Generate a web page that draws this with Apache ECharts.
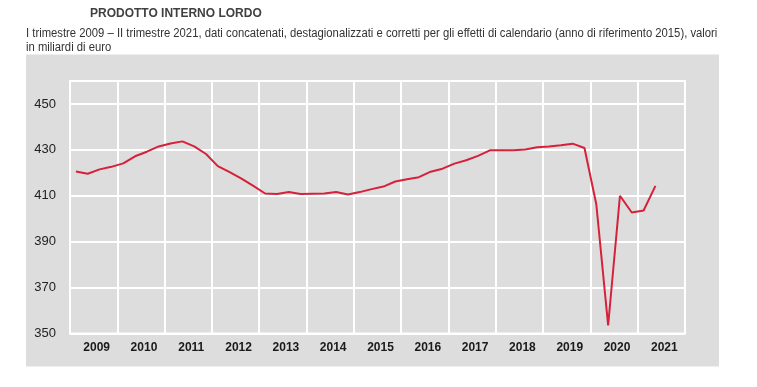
<!DOCTYPE html>
<html>
<head>
<meta charset="utf-8">
<script src="https://cdn.jsdelivr.net/npm/echarts@6/dist/echarts.min.js"></script>
<style>
html,body{margin:0;padding:0;background:#fff;}
#c{width:757px;height:387px;}
</style>
</head>
<body>
<div id="c"></div>
<script>
const titleText = 'PRODOTTO INTERNO LORDO';
const subtitleLines = [
  'I trimestre 2009 – II trimestre 2021, dati concatenati, destagionalizzati e corretti per gli effetti di calendario (anno di riferimento 2015), valori',
  'in miliardi di euro'
];
const years = ['2009','2010','2011','2012','2013','2014','2015','2016','2017','2018','2019','2020','2021'];
const quarters = [];
years.forEach(y => { ['I','II','III','IV'].forEach(q => quarters.push(q + ' ' + y)); });
const gdp = [
  420.6, 419.6, 421.5, 422.6,
  424.1, 427.2, 429.2, 431.5,
  432.8, 433.7, 431.5, 428.2,
  422.9, 420.3, 417.5, 414.3,
  411.0, 410.8, 411.6, 410.8,
  410.9, 411.0, 411.6, 410.6,
  411.6, 412.9, 414.0, 416.2,
  417.2, 418.1, 420.5, 421.8,
  424.0, 425.5, 427.4, 429.8,
  429.8, 429.8, 430.2, 431.1,
  431.5, 432.0, 432.7, 430.8,
  406.3, 353.5, 410.0, 402.7,
  403.6, 414.3
];
const yTicks = [350, 370, 390, 410, 430, 450];

const FONT = '"Liberation Sans Narrow", "Arial Narrow", Arial, sans-serif';
const chart = echarts.init(document.getElementById('c'), null, {renderer: 'canvas'});
chart.setOption({
  animation: false,
  graphic: [
    {type: 'rect', shape: {x: 26, y: 54.5, width: 693, height: 312}, style: {fill: '#dddddd'}, z: -10, silent: true},
    {type: 'text', left: 90, top: 8, style: {text: titleText, font: 'bold 12px ' + FONT, fill: '#404040'}},
    {type: 'text', x: 26, y: 27.5, scaleX: 0.94, style: {text: subtitleLines[0], font: '12px ' + FONT, fill: '#333333', textVerticalAlign: 'top'}},
    {type: 'text', x: 26, y: 41.5, scaleX: 0.94, style: {text: subtitleLines[1], font: '12px ' + FONT, fill: '#333333', textVerticalAlign: 'top'}}
  ],
  grid: {left: 70, top: 81, width: 615, height: 252.5, show: true, borderColor: '#ffffff', borderWidth: 2, backgroundColor: 'transparent'},
  xAxis: [
    {
      type: 'category', data: years, boundaryGap: true, position: 'bottom',
      axisLine: {show: false}, axisTick: {show: false},
      axisLabel: {fontFamily: FONT, fontWeight: 'bold', fontSize: 12, color: '#1a1a1a', margin: 8, padding: [0, 0, 0, 6]},
      splitLine: {show: true, lineStyle: {color: '#ffffff', width: 2}}
    },
    {
      type: 'category', data: quarters, boundaryGap: true, show: false
    }
  ],
  yAxis: {
    type: 'value', min: 350, max: 460, interval: 20,
    axisLine: {show: false}, axisTick: {show: false},
    axisLabel: {fontFamily: FONT, fontSize: 13, color: '#222222', margin: 14,
      formatter: v => yTicks.indexOf(v) >= 0 ? String(v) : ''},
    splitLine: {show: true, lineStyle: {color: '#ffffff', width: 2}}
  },
  series: [{
    type: 'line', xAxisIndex: 1, data: gdp, symbol: 'none',
    lineStyle: {color: '#d5213a', width: 2}, z: 5
  }]
});
</script>
</body>
</html>
